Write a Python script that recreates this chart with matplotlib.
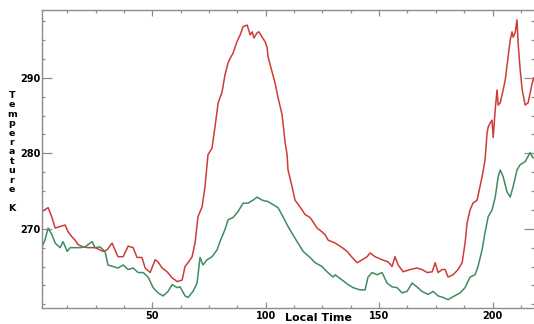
import matplotlib
matplotlib.use("Agg")
import matplotlib.pyplot as plt
from matplotlib.ticker import MultipleLocator, FixedLocator

# ---- data ----
red_time = [1.3, 4.0, 5.7, 7.1, 9.3, 11.5, 12.8, 14.6, 15.9, 17.2, 19.4, 21.6, 24.7, 26.9,
            28.2, 30.0, 32.2, 33.5, 34.8, 37.1, 39.3, 41.5, 43.2, 45.4, 46.8, 49.0, 51.2,
            52.5, 54.3, 56.5, 58.7, 60.9, 63.1, 64.4, 65.7, 67.5, 68.8, 70.1, 71.9, 73.2,
            74.5, 76.3, 77.6, 79.0, 80.7, 82.0, 83.4, 84.3, 85.6, 87.3, 88.7, 90.0, 91.8,
            92.2, 93.1, 94.0, 94.8, 96.2, 97.0, 98.4, 99.7, 100.6, 101.0, 102.8, 104.1,
            105.4, 107.2, 108.5, 109.4, 109.8, 111.6, 112.9, 115.1, 117.3, 119.5, 120.9,
            122.6, 124.8, 126.2, 127.5, 130.6, 133.7, 135.9, 138.1, 140.3, 142.5, 144.7,
            146.0, 148.2, 151.3, 154.0, 155.7, 157.0, 158.4, 160.6, 163.7, 166.7, 168.9,
            171.2, 173.4, 174.7, 176.0, 177.8, 179.1, 180.4, 182.6, 184.8, 186.6, 187.9,
            188.8, 190.1, 191.4, 193.2, 194.5, 195.4, 196.7, 197.6, 198.1, 198.9, 199.8,
            200.3, 201.2, 202.0, 202.5, 203.4, 204.7, 205.6, 206.9, 207.8, 208.6, 209.1,
            210.0, 210.8, 211.3, 212.2, 213.1, 214.4, 215.7, 217.5, 218.2]
red_temp = [272.3, 272.8, 271.5, 270.1, 270.3, 270.5, 269.6, 268.9, 268.5, 267.9, 267.6,
            267.5, 267.5, 267.2, 267.0, 267.2, 268.1, 267.2, 266.3, 266.3, 267.7, 267.5,
            266.2, 266.2, 264.8, 264.2, 265.9, 265.6, 264.8, 264.3, 263.5, 263.0, 263.2,
            265.0, 265.5, 266.3, 268.1, 271.6, 272.9, 275.6, 279.8, 280.7, 283.5, 286.7,
            288.1, 290.4, 292.0, 292.6, 293.3, 294.8, 295.7, 296.8, 297.0, 296.6, 295.7,
            296.1, 295.3, 296.0, 296.1, 295.4, 294.8, 294.0, 292.8, 290.8, 289.3, 287.4,
            285.1, 281.5, 279.8, 277.8, 275.6, 273.8, 272.9, 271.9, 271.5, 270.9, 270.1,
            269.6, 269.2, 268.5, 268.1, 267.5, 267.0, 266.2, 265.5, 265.9, 266.3, 266.8,
            266.3, 265.9, 265.6, 265.0, 266.3, 265.2, 264.3, 264.6, 264.8, 264.6, 264.2,
            264.3, 265.5, 264.2, 264.6, 264.6, 263.6, 263.9, 264.6, 265.5, 268.1, 270.8,
            272.5, 273.4, 273.8, 275.6, 276.9, 279.1, 282.7, 283.5, 284.0, 284.4, 282.1,
            285.8, 288.4, 286.4, 286.7, 288.4, 289.7, 292.8, 295.0, 296.1, 295.4, 296.0,
            297.7, 294.6, 291.1, 288.4, 286.4, 286.7, 289.3, 290.0]

green_time = [1.3, 2.6, 4.0, 5.7, 7.1, 9.3, 10.6, 12.4, 13.7, 15.9, 18.1, 20.3, 23.4, 24.7,
              26.9, 29.1, 30.4, 32.6, 34.8, 37.1, 39.3, 41.5, 43.7, 45.9, 48.1, 50.3, 52.5,
              54.7, 56.9, 58.7, 60.9, 62.2, 64.4, 65.7, 67.9, 69.7, 71.0, 72.3, 74.1, 76.3,
              78.5, 79.8, 82.0, 83.4, 85.6, 87.8, 90.0, 92.2, 94.4, 96.2, 98.4, 101.0,
              103.2, 105.4, 107.6, 109.8, 112.0, 114.2, 116.5, 119.5, 121.8, 124.8, 127.0,
              129.7, 130.6, 133.7, 136.3, 138.5, 141.6, 143.8, 145.1, 146.9, 149.1, 151.3,
              153.5, 155.7, 157.9, 160.1, 162.3, 164.5, 166.7, 168.9, 171.6, 173.8, 176.0,
              178.2, 180.4, 182.6, 185.7, 187.9, 190.1, 192.3, 193.6, 195.4, 196.7, 198.1,
              199.8, 201.2, 202.5, 203.4, 204.7, 206.4, 207.8, 209.1, 210.8, 212.2, 214.4,
              216.6, 217.9]
green_temp = [267.6, 268.5, 270.1, 269.2, 268.1, 267.5, 268.3, 267.0, 267.5, 267.5, 267.5,
              267.6, 268.3, 267.5, 267.6, 267.0, 265.2, 265.0, 264.8, 265.2, 264.6, 264.8,
              264.2, 264.2, 263.6, 262.2, 261.5, 261.1, 261.7, 262.6, 262.2, 262.3, 261.1,
              260.9, 261.7, 262.8, 266.2, 265.2, 265.9, 266.3, 267.2, 268.3, 269.9, 271.2,
              271.5, 272.3, 273.4, 273.4, 273.8, 274.2, 273.8, 273.6, 273.2, 272.8, 271.6,
              270.3, 269.2, 268.1, 267.0, 266.2, 265.5, 265.0, 264.3, 263.6, 263.9, 263.2,
              262.6, 262.2, 261.9, 261.9, 263.6, 264.2, 263.9, 264.2, 262.8, 262.3, 262.2,
              261.5, 261.7, 262.8, 262.3, 261.7, 261.3, 261.7, 261.1, 260.9, 260.6, 261.0,
              261.5, 262.2, 263.6, 263.9, 265.0, 267.2, 269.5, 271.6, 272.5, 274.2, 276.9,
              277.8, 276.9, 274.9, 274.2, 275.6, 277.8, 278.5, 278.9, 280.1, 279.4]

x_major_ticks = [50, 100, 150, 200]
y_major_ticks = [270, 280, 290]
x_label = "Local Time"
y_label = "Temperature K"

# ---- figure ----
W, H = 534, 324
fig = plt.figure(figsize=(W / 100, H / 100), dpi=100)
ax = fig.add_axes([42 / W, 1 - 308 / H, (534 - 42) / W, (308 - 10) / H])

ax.plot(red_time, red_temp, color="#cf3b36", lw=1.1)
ax.plot(green_time, green_temp, color="#3e8c60", lw=1.1)

ax.set_xlim(1.3, 218.3)
ax.set_ylim(259.5, 299.0)

ax.xaxis.set_major_locator(FixedLocator(x_major_ticks))
ax.xaxis.set_minor_locator(MultipleLocator(12.5))
ax.yaxis.set_major_locator(FixedLocator(y_major_ticks))
ax.yaxis.set_minor_locator(MultipleLocator(2.5))

spine_color = "#8c8c8c"
for s in ["left", "top", "bottom"]:
    ax.spines[s].set_color(spine_color)
    ax.spines[s].set_linewidth(1.0)
ax.spines["right"].set_visible(False)

ax.tick_params(which="both", direction="in", top=True, right=True, color=spine_color, width=0.9)
ax.tick_params(axis="y", which="major", length=7, labelsize=7, pad=1)
ax.tick_params(axis="y", which="minor", length=2.5)
ax.tick_params(axis="x", which="major", length=4, labelsize=7, pad=2)
ax.tick_params(axis="x", which="minor", length=2.5)
for lab in ax.get_xticklabels() + ax.get_yticklabels():
    lab.set_fontweight("bold")

fig.text(318 / W, 1 - 318 / H, x_label, ha="center", va="center",
         fontsize=8, fontweight="bold")
fig.text(12 / W, 1 - 152 / H, "\n".join(list("Temperature")) + "\n\nK",
         ha="center", va="center", multialignment="center",
         fontsize=6.8, fontweight="bold", linespacing=1.06)

fig.savefig("out.png", dpi=100)
